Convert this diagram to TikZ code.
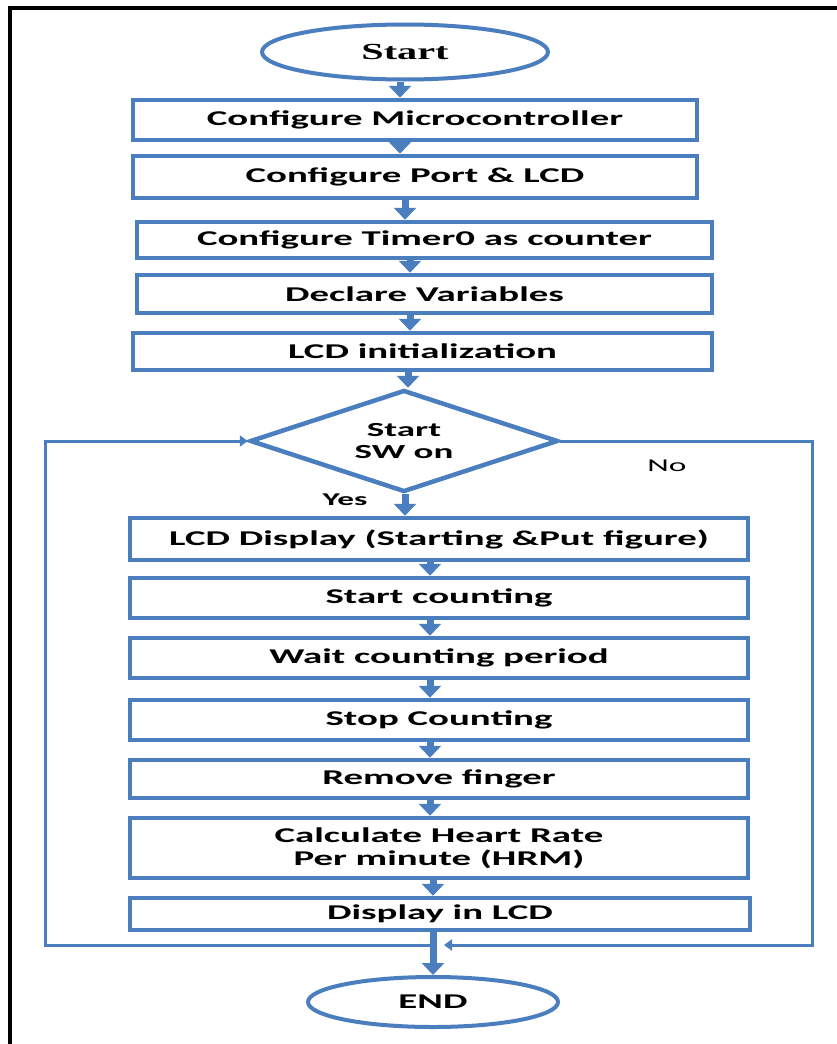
\documentclass[tikz,border=0pt]{standalone}
\usepackage{fontspec}
\setmainfont{Carlito}[FakeStretch=1.85]
\newfontfamily\startfont{Liberation Serif}[FakeStretch=1.75]
\usetikzlibrary{shapes.geometric,arrows.meta}
\definecolor{fblue}{RGB}{74,126,190}
\tikzset{
  boxnode/.style={draw=fblue, line width=4.5pt, inner sep=0pt, align=center,
    font=\fontsize{21}{23}\selectfont\bfseries},
  termnode/.style={draw=fblue, ellipse, line width=4pt, inner sep=0pt},
  decnode/.style={draw=fblue, diamond, line width=4.5pt, inner sep=0pt, align=center,
    font=\fontsize{20}{22}\selectfont\bfseries},
  flowarr/.style={draw=fblue, line width=7pt, -{Triangle[width=22pt,length=12pt]}},
  looparr/.style={draw=fblue, line width=3pt, -{Triangle[width=11pt,length=8pt]}},
  lbl/.style={font=\fontsize{18}{20}\selectfont, inner sep=0pt},
}
\begin{document}
\begin{tikzpicture}[x=1pt,y=-1pt]
\useasboundingbox (0,0) rectangle (837,1044);
\fill[white] (0,0) rectangle (837,1044);
% black frame
\draw[black, line width=3.5pt] (10,1044) -- (10,8) -- (837,8);

% terminals
\node[termnode, minimum width=286pt, minimum height=55pt,
  font={\startfont\bfseries\fontsize{23}{25}\selectfont}] (st) at (405,52) {Start};
\node[termnode, minimum width=250pt, minimum height=50pt,
  font=\fontsize{21}{23}\selectfont\bfseries] (en) at (433,1002) {END};

% top boxes
\node[boxnode, minimum width=564pt, minimum height=40pt] (b1) at (415,120) {Configure Microcontroller};
\node[boxnode, minimum width=564pt, minimum height=42pt] (b2) at (415,177) {Configure Port \& LCD};
\node[boxnode, minimum width=575pt, minimum height=36pt] (b3) at (424.5,240) {Configure Timer0 as counter};
\node[boxnode, minimum width=575pt, minimum height=38pt] (b4) at (424.5,294) {Declare Variables};
\node[boxnode, minimum width=579pt, minimum height=37pt] (b5) at (422.5,351.5) {LCD initialization};

% decision
\node[decnode, minimum width=308pt, minimum height=102pt, shape aspect=3] (dia) at (404,441) {Start\\SW on};

% lower boxes
\node[boxnode, minimum width=618pt, minimum height=42pt] (b6) at (439,539) {LCD Display (Starting \&Put figure)};
\node[boxnode, minimum width=618pt, minimum height=40pt] (b7) at (439,598) {Start counting};
\node[boxnode, minimum width=618pt, minimum height=40pt] (b8) at (439,658) {Wait counting period};
\node[boxnode, minimum width=618pt, minimum height=40pt] (b9) at (439,720) {Stop Counting};
\node[boxnode, minimum width=618pt, minimum height=38pt] (b10) at (439,779) {Remove finger};
\node[boxnode, minimum width=618pt, minimum height=60pt] (b11) at (439,848) {Calculate Heart Rate\\Per minute (HRM)};
\node[boxnode, minimum width=620pt, minimum height=32pt] (b12) at (440,914) {Display in LCD};

% labels
\node[lbl, font=\fontsize{18}{20}\selectfont\bfseries] (yes) at (345,500) {Yes};
\node[lbl] (no) at (667,466) {No};

% arrow x positions
\coordinate (x1) at (400,0);
\coordinate (x2) at (405,0);
\coordinate (x3) at (410,0);
\coordinate (x4) at (408,0);
\coordinate (x5) at (430,0);
\coordinate (x6) at (433,0);

\draw[flowarr] (st.south -| x1) -- (b1.north -| x1);
\draw[flowarr] (b1.south -| x1) -- (b2.north -| x1);
\draw[flowarr] (b2.south -| x2) -- (b3.north -| x2);
\draw[flowarr] (b3.south -| x3) -- (b4.north -| x3);
\draw[flowarr] (b4.south -| x3) -- (b5.north -| x3);
\draw[flowarr] (b5.south -| x4) -- (dia.north -| x4);
\draw[flowarr] (dia.south -| x2) -- (b6.north -| x2);
\draw[flowarr] (b6.south -| x5) -- (b7.north -| x5);
\draw[flowarr] (b7.south -| x5) -- (b8.north -| x5);
\draw[flowarr] (b8.south -| x5) -- (b9.north -| x5);
\draw[flowarr] (b9.south -| x5) -- (b10.north -| x5);
\draw[flowarr] (b10.south -| x5) -- (b11.north -| x5);
\draw[flowarr] (b11.south -| x6) -- (b12.north -| x6);
\draw[flowarr] (b12.south -| x6) -- (en.north -| x6);

% loop lines
\coordinate (jn) at (433,945);
\coordinate (cL) at (45,945);
\coordinate (cR) at (812,945);
\draw[looparr] (jn) -- (cL) |- (dia.west);
\draw[looparr, shorten >=11pt] (dia.east) -| (cR) -- (jn);
\end{tikzpicture}
\end{document}
